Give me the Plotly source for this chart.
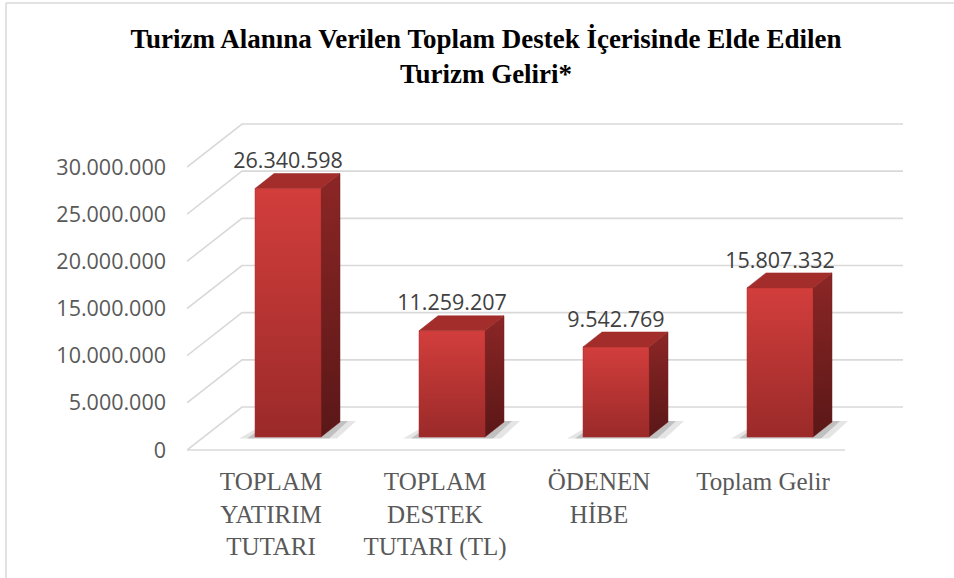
import plotly.graph_objects as go

# ---------------- data ----------------
categories = ["TOPLAM<br>YATIRIM<br>TUTARI", "TOPLAM<br>DESTEK<br>TUTARI (TL)", "ÖDENEN<br>HİBE", "Toplam Gelir"]
values = [26340598, 11259207, 9542769, 15807332]
y_ticks = [0, 5000000, 10000000, 15000000, 20000000, 25000000, 30000000]
title_text = "Turizm Alanına Verilen Toplam Destek İçerisinde Elde Edilen<br>Turizm Geliri*"

# ---------------- geometry (pixel scale helpers) ----------------
FIG_W, FIG_H = 954, 578
L, R, T, B = 187, 43, 120, 123
PW, PH = FIG_W - L - R, FIG_H - T - B
PXX = 164.0            # px per category step
PXY = 9.433e-6         # px per value unit
ZERO_PX = 450          # pixel row of front-plane zero
X0_PX = 271            # pixel column of first category (front plane)

def dx(px):
    return px / PXX

def dy(px):
    return px / PXY

x_lo = (L - X0_PX) / PXX
x_hi = x_lo + PW / PXX
y_hi = (ZERO_PX - T) / PXY
y_lo = -((T + PH) - ZERO_PX) / PXY

BACK_DX, BACK_DY = dx(55), dy(43)
BAR_DX, BAR_DY = dx(17), dy(13)
DEP_DX, DEP_DY = dx(19), dy(15)
HALF_W = dx(33)
floor_left = x_lo
floor_right = (845 - X0_PX) / PXX
back_right = (903 - X0_PX) / PXX

fig = go.Figure()

# gridlines (side wall + back wall)
gx, gy = [], []
for t in y_ticks:
    gx += [floor_left, floor_left + BACK_DX, back_right, None]
    gy += [t, t + BACK_DY, t + BACK_DY, None]
fig.add_trace(go.Scatter(x=gx, y=gy, mode="lines",
                         line=dict(color="#d9d9d9", width=1.6),
                         hoverinfo="skip", showlegend=False))
# floor front edge
fig.add_trace(go.Scatter(x=[floor_left, floor_right], y=[0, 0], mode="lines",
                         line=dict(color="#d9d9d9", width=1.6),
                         hoverinfo="skip", showlegend=False))

# bars as 3D boxes
for i, v in enumerate(values):
    cx = i + BAR_DX
    base = BAR_DY
    left, right = cx - HALF_W, cx + HALF_W
    top = base + v
    # soft floor shadow
    for spread, alpha in [(dx(16), 0.10), (dx(8), 0.16)]:
        sx = [left - spread, right + spread, right + DEP_DX + spread, left + DEP_DX - spread * 0.3, left - spread]
        sy = [base - dy(1.5), base - dy(1.5), base + DEP_DY + dy(1), base + DEP_DY + dy(1), base - dy(1.5)]
        fig.add_trace(go.Scatter(x=sx, y=sy, mode="lines", fill="toself",
                                 fillcolor=f"rgba(0,0,0,{alpha})", line=dict(width=0),
                                 hoverinfo="skip", showlegend=False))
    # side face
    fig.add_trace(go.Scatter(
        x=[right, right + DEP_DX, right + DEP_DX, right, right],
        y=[base, base + DEP_DY, top + DEP_DY, top, base],
        mode="lines", fill="toself", line=dict(width=0.5, color="#6e1d1d"),
        fillgradient=dict(type="vertical", colorscale=[[0, "#5a1717"], [1, "#8c2626"]]),
        hoverinfo="skip", showlegend=False))
    # top face
    fig.add_trace(go.Scatter(
        x=[left, right, right + DEP_DX, left + DEP_DX, left],
        y=[top, top, top + DEP_DY, top + DEP_DY, top],
        mode="lines", fill="toself", fillcolor="#a32d2b", line=dict(width=0.5, color="#9a2a28"),
        hoverinfo="skip", showlegend=False))
    # front face
    fig.add_trace(go.Scatter(
        x=[left, right, right, left, left],
        y=[base, base, top, top, base],
        mode="lines", fill="toself", line=dict(width=0.5, color="#a82e2c"),
        fillgradient=dict(type="vertical", colorscale=[[0, "#9a2a29"], [1, "#d23e3c"]]),
        hoverinfo="skip", showlegend=False))

# data labels
fig.add_trace(go.Scatter(
    x=[i + BAR_DX for i in range(len(values))],
    y=[BAR_DY + v + DEP_DY for v in values],
    mode="text", customdata=values, texttemplate="%{customdata:,d}",
    textposition="top center",
    textfont=dict(family="Open Sans", size=21.5, color="#404040"),
    hoverinfo="skip", showlegend=False))

# chart-area border (top + left)
px2paper_x = lambda p: (p - L) / PW
px2paper_y = lambda p: 1 - (p - T) / PH
fig.add_shape(type="line", xref="paper", yref="paper",
              x0=px2paper_x(6), x1=px2paper_x(954), y0=px2paper_y(3), y1=px2paper_y(3),
              line=dict(color="#d9d9d9", width=1.5))
fig.add_shape(type="line", xref="paper", yref="paper",
              x0=px2paper_x(6), x1=px2paper_x(6), y0=px2paper_y(3), y1=px2paper_y(578),
              line=dict(color="#d9d9d9", width=1.5))

fig.update_layout(
    width=FIG_W, height=FIG_H,
    margin=dict(l=L, r=R, t=T, b=B, pad=0),
    paper_bgcolor="white", plot_bgcolor="white",
    separators=",.",
    title=dict(text=title_text, x=486 / FIG_W, xref="container", xanchor="center",
               y=1 - 48 / FIG_H, yref="container", yanchor="top",
               font=dict(family="Liberation Serif", size=27, color="black", weight="bold")),
    xaxis=dict(range=[x_lo, x_hi], tickvals=list(range(len(categories))), ticktext=categories,
               showgrid=False, zeroline=False, showline=False, ticks="",
               tickfont=dict(family="Liberation Serif", size=25, color="#595959"),
               ticklabelstandoff=9, fixedrange=True),
    yaxis=dict(range=[y_lo, y_hi], tickvals=y_ticks, tickformat=",d",
               showgrid=False, zeroline=False, showline=False, ticks="",
               tickfont=dict(family="Open Sans", size=21.5, color="#595959"),
               ticklabelstandoff=20, fixedrange=True),
    showlegend=False,
)

fig.write_html("out.html", config={"displayModeBar": False},
               post_script="document.body.style.margin='0';document.body.style.overflow='hidden';")
